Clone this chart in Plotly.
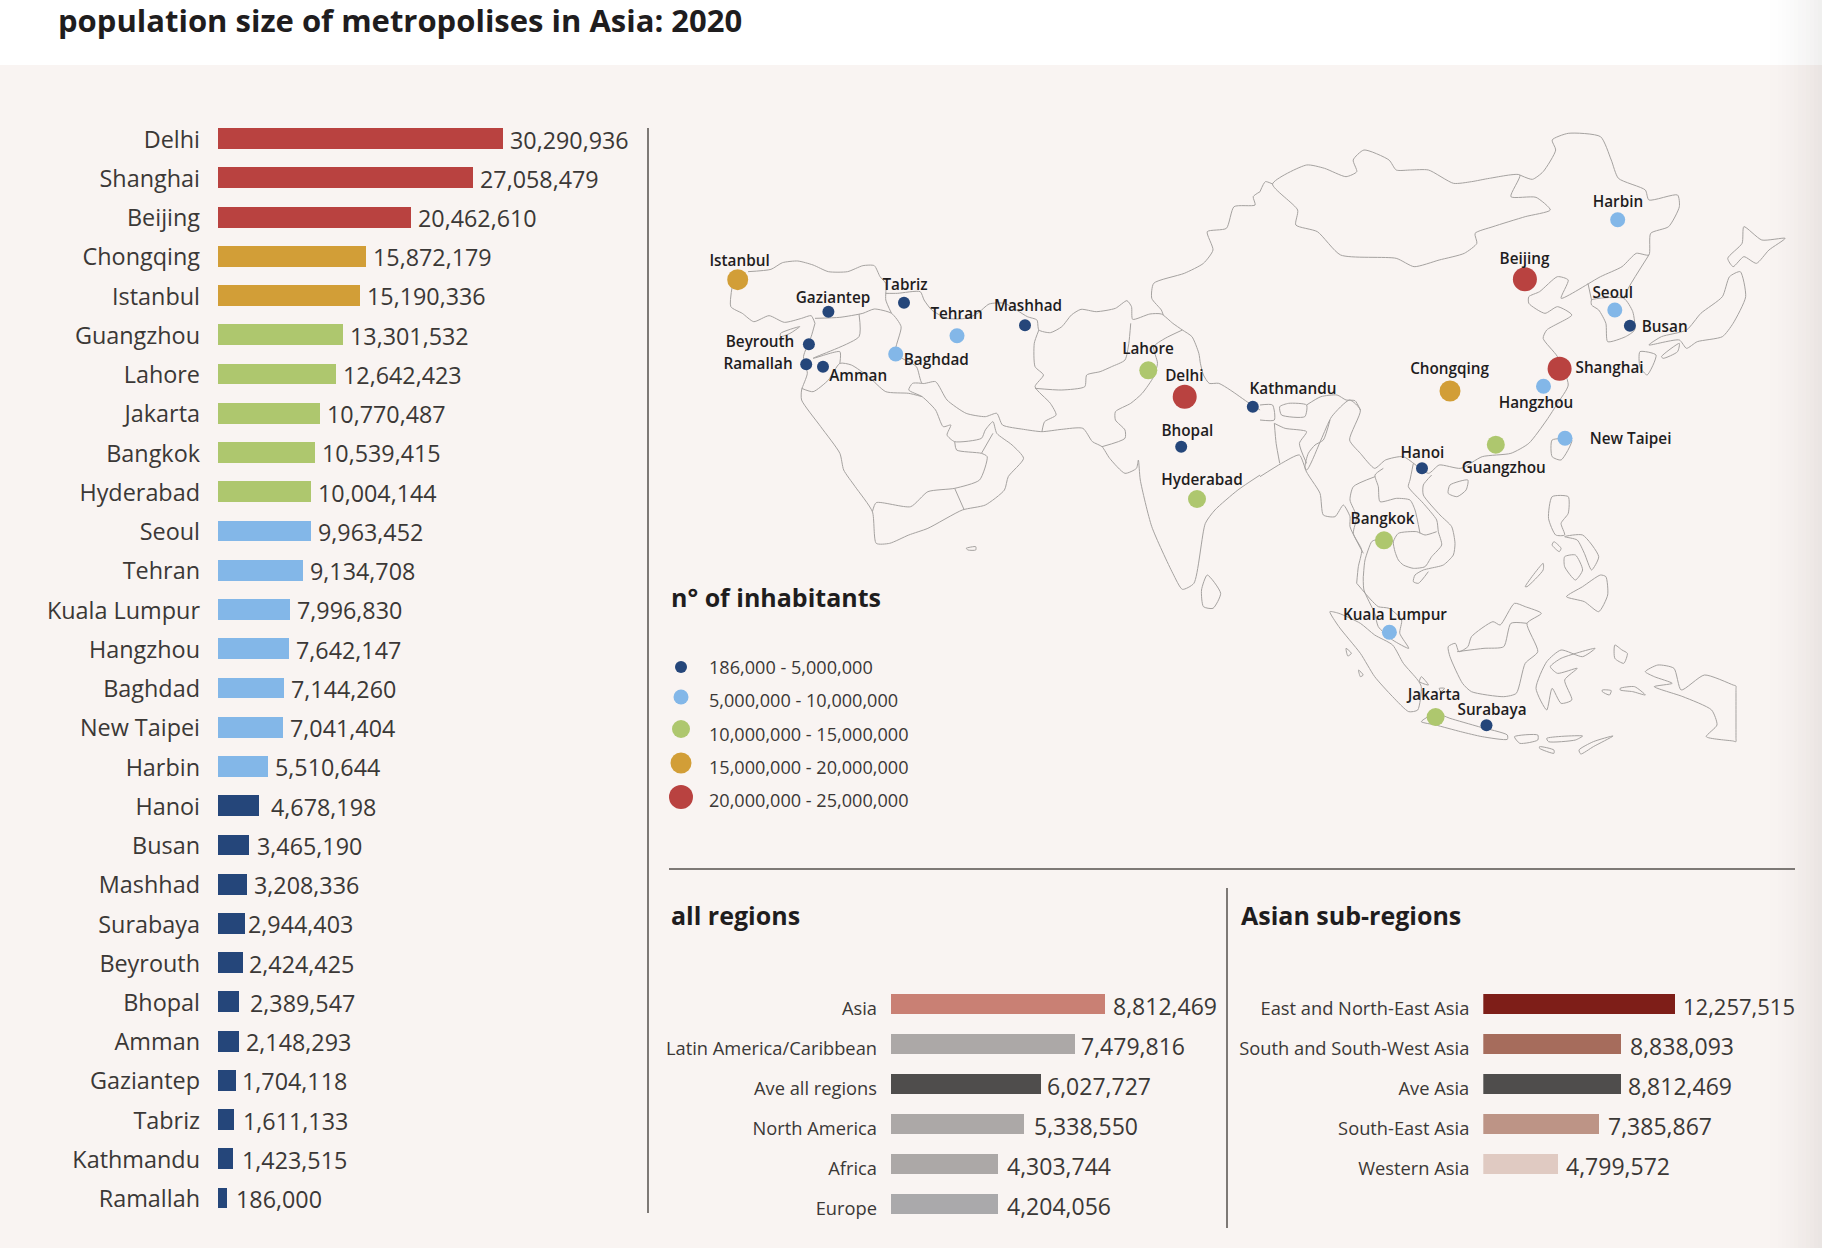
import plotly.graph_objects as go

W, H = 1822, 1248
FONT = "Open Sans"
INK = "#1f1d1e"
TEXT = "#3b3836"
PANEL = "#f9f4f2"
RULE = "#55504d"
OUTLINE = "#a5a2a0"

# ---------- data ----------
cities = ["Delhi", "Shanghai", "Beijing", "Chongqing", "Istanbul", "Guangzhou", "Lahore", "Jakarta",
          "Bangkok", "Hyderabad", "Seoul", "Tehran", "Kuala Lumpur", "Hangzhou", "Baghdad", "New Taipei",
          "Harbin", "Hanoi", "Busan", "Mashhad", "Surabaya", "Beyrouth", "Bhopal", "Amman", "Gaziantep",
          "Tabriz", "Kathmandu", "Ramallah"]
population = [30290936, 27058479, 20462610, 15872179, 15190336, 13301532, 12642423, 10770487,
              10539415, 10004144, 9963452, 9134708, 7996830, 7642147, 7144260, 7041404,
              5510644, 4678198, 3465190, 3208336, 2944403, 2424425, 2389547, 2148293, 1704118,
              1611133, 1423515, 186000]
# bar lengths as drawn in the source, in millions (it does not draw every bar strictly to scale)
drawn_bars = [30.29, 27.06, 20.46, 15.75, 15.09, 13.28, 12.49, 10.84,
              10.36, 9.85, 9.85, 8.98, 7.65, 7.5, 7.05, 6.9,
              5.31, 4.4, 3.33, 3.09, 2.84, 2.7, 2.2, 2.2, 1.88,
              1.66, 1.6, 0.95]
value_nudge = {"Hanoi": 5, "Busan": 1, "Surabaya": -4, "Beyrouth": -1, "Bhopal": 4, "Gaziantep": -1, "Tabriz": 2, "Kathmandu": 2, "Ramallah": 2}

regions = ["Asia", "Latin America/Caribbean", "Ave all regions", "North America", "Africa", "Europe"]
region_values = [8812469, 7479816, 6027727, 5338550, 4303744, 4204056]
region_drawn = [8.70, 7.48, 6.10, 5.41, 4.35, 4.35]
region_colors = ["#c98074", "#aca8a7", "#4f4d4c", "#aca8a7", "#aca8a7", "#aaa9ab"]
region_gaps = [9, 7, 7, 11, 10, 10]

subregions = ["East and North-East Asia", "South and South-West Asia", "Ave Asia", "South-East Asia", "Western Asia"]
subregion_values = [12257515, 8838093, 8812469, 7385867, 4799572]
subregion_colors = ["#7e1e18", "#a66c5c", "#4f4d4c", "#bd9486", "#e0cac2"]
subregion_gaps = [9, 9, 8, 10, 9]
subregion_label_sizes = [22, 23, 23, 23, 23]

tier_labels = ["186,000 - 5,000,000", "5,000,000 - 10,000,000", "10,000,000 - 15,000,000",
               "15,000,000 - 20,000,000", "20,000,000 - 25,000,000"]
tier_colors = ["#25467a", "#83b7e8", "#aec76e", "#d29e37", "#b94240"]
tier_sizes = [12, 15, 18, 21, 24]
legend_dot_y = [667, 697, 729, 763, 797]
legend_text_y = [669, 702, 736, 769, 802]

# city position on the map sheet, and its label's position
map_x = dict(zip(cities, [1184.7, 1559.6, 1524.9, 1450, 737.7, 1495.8, 1148.3, 1435.6, 1384, 1197, 1614.8, 957, 1389.4,
                          1543.5, 895.7, 1565, 1617.7, 1422, 1629.9, 1025, 1486.5, 808.9, 1181.2, 823, 828.4, 904,
                          1252.8, 806.2]))
map_y = dict(zip(cities, [396.7, 368.7, 279.3, 391, 279.7, 444.7, 370.3, 717, 540.3, 499, 310, 335.7, 632.3, 386.3, 354,
                          438.3, 219.7, 468.3, 325.7, 325.3, 725.3, 344.3, 446.7, 366.7, 311.7, 302.7, 406.7, 364.3]))
label_x = dict(zip(cities, [1184.3, 1609.5, 1524.5, 1449.6, 739.6, 1503.7, 1148, 1434, 1382.6, 1202, 1612.7, 956.6, 1395,
                            1536, 936.3, 1630.6, 1618, 1422.4, 1664.7, 1028, 1492, 760, 1187.4, 858.2, 833, 905, 1293, 758]))
label_y = dict(zip(cities, [377.3, 369.3, 259.7, 370, 262, 468.7, 350.3, 695.7, 519.7, 481.3, 293.7, 315.3, 615.7, 403.7,
                            361.3, 440.3, 203.3, 454.3, 327.7, 307.3, 710.7, 343.3, 432.3, 376.7, 298.7, 285.7, 390.3, 365.3]))

# map outlines, one list per sheet
outlines_west = [
    [(230,485),(290,478),(320,458),(360,453),(400,465),(440,485),(490,485),(530,467),(560,467),(575,500),(590,520),(590,570),(605,610)],
    [(190,520),(185,590),(215,610),(245,635),(285,617),(325,637),(370,625),(395,617),(405,640)],
    [(405,625),(470,622),(530,610),(560,597),(605,610),(630,650),(615,730),(670,770),(685,820),(720,815),(750,870),(800,910),(850,920),(880,910),(895,945),(950,958),(998,965),(1050,958),(1105,955),(1130,995),(1155,1010),(1175,1045),(1215,1090),(1245,1075),(1250,1050),(1255,1110),(1285,1250),(1340,1390),(1365,1438),(1395,1420),(1425,1240),(1450,1200),(1510,1140),(1568,1095)],
    [(590,550),(620,550),(680,545),(690,570),(710,600),(750,625),(800,625),(830,610),(860,582),(900,580),(960,620),(985,630),(990,660),(1020,668),(1050,650),(1075,615),(1100,598),(1140,605),(1190,595),(1220,572),(1232,590),(1235,628),(1280,612),(1310,612),(1340,640),(1365,660),(1390,680),(1408,730),(1412,760),(1420,795),(1435,820),(1460,820),(1490,840),(1540,880),(1568,900)],
    [(990,660),(978,700),(980,770),(1002,795),(980,830),(1020,880),(1035,915),(1005,935),(998,965)],
    [(980,835),(1050,840),(1110,830),(1115,795),(1150,785),(1180,770),(1215,750),(1225,700),(1230,640)],
    [(1155,1010),(1215,985),(1215,960),(1190,930),(1190,905),(1230,880),(1260,850),(1290,800),(1300,760),(1290,710),(1320,685),(1365,660)],
    [(405,640),(395,680),(375,740),(385,790),(370,840),(370,870),(420,950),(470,1030),(480,1080),(510,1130),(555,1205),(565,1300),(600,1300),(650,1275),(700,1255),(790,1200),(850,1185),(900,1140),(910,1100),(950,1045),(920,1005),(880,970),(870,935),(850,960),(840,985),(770,995),(750,975),(760,945),(740,950),(720,900),(685,860),(650,840),(660,820),(685,820)],
    [(370,835),(400,845),(440,810),(470,760),(500,765),(545,800),(590,845),(650,850),(685,860)],
    [(520,612),(520,680),(400,745),(470,725),(470,760)],
    [(770,1135),(795,1200)],
    [(555,1205),(565,1178),(655,1190),(700,1145),(770,1135),(835,1110),(855,1040),(840,1030),(775,1020),(770,995)],
    [(840,1030),(870,970)],
    [(1430,1395),(1465,1450),(1445,1495),(1420,1490),(1415,1440),(1430,1395)],
    [(800,1315),(825,1310),(825,1320),(805,1320),(800,1315)],
    [(315,670),(365,650),(340,670),(315,680),(315,670)],
    [(1568,245),(1550,260),(1555,285),(1500,290),(1480,355),(1430,365),(1445,420),(1420,460),(1370,490),(1290,520),(1285,565),(1310,600),(1315,615)],
]
outlines_north = [
    [(35,222),(130,165),(180,175),(240,200),(270,185),(260,150),(290,120),(360,150),(380,180),(420,180),(470,180),(540,220),(590,215),(640,205),(725,195),(700,260),(770,262),(810,300),(740,320),(650,350),(600,370),(605,400),(570,430),(500,450),(430,470),(380,445),(225,435),(160,365),(100,345),(105,300),(35,222)],
    [(0,245),(15,215),(35,222)],
    [(725,195),(760,208),(790,185),(825,120),(815,90),(860,70),(950,80),(980,150),(1000,205),(1075,240),(1085,270),(1165,255),(1170,290),(1140,350),(1090,370),(1085,435),(1050,430),(1010,470),(950,500),(840,565),(860,510),(830,500),(780,545),(750,560),(750,580),(795,610),(830,590),(870,615),(800,660),(790,685),(830,740),(860,825),(830,880),(800,930),(750,1000),(700,1030),(620,1040),(560,1075),(500,1065),(470,1090),(400,1040),(350,1050),(320,1075),(280,1030),(250,990),(280,900),(250,870),(200,920),(170,990),(130,1080),(110,1035),(60,1060),(0,1100)],
    [(0,885),(35,885),(40,930),(0,930)],
    [(55,890),(80,880),(130,885),(125,920),(60,915),(55,890)],
    [(40,940),(70,955),(130,965),(110,1000),(130,1060)],
    [(55,1060),(45,1000),(40,940)],
    [(130,885),(170,860),(215,855),(240,870),(265,872),(280,900)],
    [(925,570),(1015,565),(1040,605),(1045,660),(1020,680),(970,695),(965,640),(945,600),(925,585),(925,570)],
    [(915,520),(925,570)],
    [(1085,435),(1030,530),(1015,565)],
    [(1305,445),(1345,400),(1350,350),(1400,390),(1465,385),(1420,420),(1385,460),(1350,440),(1320,470),(1305,445)],
    [(1340,485),(1355,560),(1320,640),(1290,680),(1220,695),(1190,715),(1170,690),(1085,705),(1120,680),(1190,660),(1230,610),(1290,560),(1310,500),(1340,485)],
    [(1120,740),(1170,700),(1165,725),(1125,745),(1120,740)],
    [(1060,725),(1105,735),(1080,795),(1060,770),(1060,725)],
    [(815,990),(870,990),(840,1050),(815,1040),(815,990)],
    [(530,1125),(580,1110),(575,1140),(550,1160),(525,1150),(530,1125)],
]
outlines_indochina = [
    [(395,165),(370,195),(370,225),(420,285),(455,320),(465,370),(460,405),(430,435),(390,445),(370,450),(345,465),(340,485),(355,490),(385,455)],
    [(340,130),(330,180),(325,200),(370,250),(410,300),(415,335),(425,375),(395,410),(375,440),(340,445),(310,435),(295,420),(285,395),(280,365),(295,340),(350,335),(375,345),(410,335)],
    [(250,145),(225,165),(235,200),(240,245),(290,235),(330,240),(345,270),(360,340)],
    [(225,170),(160,200),(150,240),(170,290),(160,340),(185,390),(175,440),(170,490)],
    [(90,0),(70,60),(45,75),(25,100),(15,145),(60,220),(70,285),(105,290),(130,255),(150,290),(150,320),(190,400)],
    [(280,365),(225,360),(215,365),(195,420),(190,470)],
]
outlines_south = [
    [(270,310),(310,360),(330,380),(360,385),(395,420),(390,460),(415,505),(370,480),(330,440),(320,400),(290,330),(288,290)],
    [(195,395),(220,400),(280,430),(320,465),(370,495),(400,550),(440,600),(450,620),(440,690),(415,695),(370,650),(320,590),(280,520),(220,440),(195,395)],
    [(450,725),(490,700),(530,715),(610,740),(690,765),(690,778),(620,770),(560,755),(490,735),(450,725)],
    [(525,500),(545,490),(555,515),(580,500),(590,470),(650,425),(670,435),(710,370),(740,380),(785,400),(745,430),(775,515),(740,550),(715,640),(680,650),(590,635),(565,610),(530,530),(525,500)],
    [(550,515),(625,505),(680,500),(700,430),(745,430)],
    [(935,505),(900,530),(840,510),(800,545),(770,625),(800,690),(815,625),(840,670),(870,660),(850,600),(885,565),(830,580),(810,560),(840,535),(935,505)],
    [(815,50),(860,50),(860,100),(840,130),(850,165),(825,165),(805,115),(815,50)],
    [(850,170),(900,165),(945,230),(925,270),(905,220),(885,180),(850,170)],
    [(740,320),(790,250),(790,270),(745,320),(740,320)],
    [(855,350),(900,320),(950,285),(965,290),(970,345),(945,395),(905,365),(855,350)],
    [(850,230),(880,225),(900,270),(880,300),(850,260),(850,230)],
    [(820,185),(840,205),(835,215),(815,195),(820,185)],
    [(1075,575),(1110,555),(1155,565),(1175,630),(1240,585),(1320,615),(1328,618),(1328,628),(1328,775),(1328,785),(1320,783),(1245,770),(1275,735),(1260,690),(1180,650),(1100,620),(1150,610),(1100,590),(1075,575)],
    [(990,495),(1010,510),(1025,520),(1015,550),(990,535),(990,495)],
    [(1005,625),(1045,620),(1075,645),(1040,635),(1005,630),(1005,625)],
    [(955,630),(980,632),(975,645),(955,635),(955,630)],
    [(710,770),(775,765),(775,780),(725,790),(710,770)],
    [(800,775),(900,768),(880,780),(805,785),(800,775)],
    [(780,800),(820,810),(820,820),(780,805),(780,800)],
    [(890,810),(930,785),(985,768),(930,800),(895,822),(890,810)],
    [(240,505),(255,520),(245,528),(240,505)],
    [(275,570),(288,585),(280,590),(275,570)],
    [(450,590),(470,615),(445,605),(450,590)],
    [(500,625),(515,625),(505,635),(500,625)],
]


# ---------- helpers ----------
def fx(px):
    return px / W


def fy(py):
    return 1 - py / H


def tier_of(v):
    return min(int(v // 5000000), 4)


def sheet_line(groups, x0, xs, y0, ys):
    xx, yy = [], []
    for g in groups:
        for X, Y in g:
            xx.append(x0 + X / xs)
            yy.append(y0 + Y / ys)
        xx.append(None)
        yy.append(None)
    return xx, yy


def rect(x0, y0, x1, y1, color):
    return dict(type="rect", xref="paper", yref="paper", x0=fx(x0), x1=fx(x1), y0=fy(y0), y1=fy(y1),
                fillcolor=color, line=dict(width=0), layer="below")


def rule(x0, y0, x1, y1):
    return dict(type="line", xref="paper", yref="paper", x0=fx(x0), x1=fx(x1), y0=fy(y0), y1=fy(y1),
                line=dict(color=RULE, width=1.5), layer="above")


def heading(text, x, y, size):
    return dict(text=f"<b>{text}</b>", xref="paper", yref="paper", x=fx(x), y=fy(y), showarrow=False,
                xanchor="left", yanchor="middle", font=dict(family=FONT, size=size, color=INK))


fig = go.Figure()

# ---------- bars ----------
fig.add_trace(go.Bar(x=drawn_bars, y=cities, orientation="h", xaxis="x", yaxis="y", width=0.53,
                     marker=dict(color=[tier_colors[tier_of(v)] for v in population], line=dict(width=0)),
                     showlegend=False, hoverinfo="skip"))
fig.add_trace(go.Bar(x=region_drawn, y=regions, orientation="h", xaxis="x2", yaxis="y2", width=0.515,
                     marker=dict(color=region_colors, line=dict(width=0)), showlegend=False, hoverinfo="skip"))
fig.add_trace(go.Bar(x=[v / 1e6 for v in subregion_values], y=subregions, orientation="h", xaxis="x3", yaxis="y3", width=0.515,
                     marker=dict(color=subregion_colors, line=dict(width=0)), showlegend=False, hoverinfo="skip"))

# ---------- map ----------
for groups, x0, xs, y0, ys in [(outlines_west, 660, 2.613, 110, 3), (outlines_north, 1260, 2.79, 110, 3),
                               (outlines_indochina, 1300, 3, 420, 3), (outlines_south, 1260, 2.79, 480, 3)]:
    xx, yy = sheet_line(groups, x0, xs, y0, ys)
    fig.add_trace(go.Scatter(x=xx, y=yy, mode="lines", xaxis="x4", yaxis="y4",
                             line=dict(color=OUTLINE, width=1, shape="spline", smoothing=0.6),
                             showlegend=False, hoverinfo="skip"))
fig.add_trace(go.Scatter(x=[map_x[c] for c in cities], y=[map_y[c] for c in cities], mode="markers", xaxis="x4", yaxis="y4",
                         marker=dict(color=[tier_colors[tier_of(v)] for v in population], opacity=1,
                                     size=[tier_sizes[tier_of(v)] for v in population], line=dict(width=0)),
                         showlegend=False, hoverinfo="skip"))
fig.add_trace(go.Scatter(x=[label_x[c] for c in cities], y=[label_y[c] for c in cities], mode="text", text=cities,
                         textposition="middle center", xaxis="x4", yaxis="y4",
                         textfont=dict(family=FONT, size=15.3, color=INK, weight=600), showlegend=False, hoverinfo="skip"))

# legend of the map
fig.add_trace(go.Scatter(x=[681] * 5, y=legend_dot_y, mode="markers", xaxis="x4", yaxis="y4",
                         marker=dict(color=tier_colors, opacity=1, size=tier_sizes, line=dict(width=0)),
                         showlegend=False, hoverinfo="skip"))
fig.add_trace(go.Scatter(x=[709] * 5, y=legend_text_y, mode="text", text=tier_labels, textposition="middle right", xaxis="x4", yaxis="y4",
                         textfont=dict(family=FONT, size=18.1, color=TEXT), showlegend=False, hoverinfo="skip"))

# ---------- value labels ----------
annotations = [
    heading("population size of metropolises in Asia: 2020", 56, 20, 31),
    heading("n° of inhabitants", 669, 597, 25),
    heading("all regions", 669, 915, 25),
    heading("Asian sub-regions", 1239, 915, 25),
]
for c, d, v in zip(cities, drawn_bars, population):
    annotations.append(dict(text=f"{v:,}", x=d, y=c, xref="x", yref="y", showarrow=False, xanchor="left", yanchor="middle",
                            xshift=5 + value_nudge.get(c, 0), yshift=-1, font=dict(family=FONT, size=23.3, color=TEXT)))
for c, d, v, g in zip(regions, region_drawn, region_values, region_gaps):
    annotations.append(dict(text=f"{v:,}", x=d, y=c, xref="x2", yref="y2", showarrow=False, xanchor="left", yanchor="middle",
                            xshift=g - 3, yshift=-2, font=dict(family=FONT, size=23, color=TEXT)))
for c, v, g, s in zip(subregions, subregion_values, subregion_gaps, subregion_label_sizes):
    annotations.append(dict(text=f"{v:,}", x=v / 1e6, y=c, xref="x3", yref="y3", showarrow=False, xanchor="left", yanchor="middle",
                            xshift=g - 3, yshift=-2, font=dict(family=FONT, size=s, color=TEXT)))

hidden_x = dict(visible=False, fixedrange=True)


def cat_axis(xname, top, bottom, size, standoff, shift, order):
    return dict(domain=[fy(bottom), fy(top)], anchor=xname, autorange=False, range=[len(order) - 0.5, -0.5], type="category",
                categoryorder="array", categoryarray=order, showgrid=False, showline=False, zeroline=False,
                ticks="", ticklabelstandoff=standoff, ticklabelshift=shift,
                tickfont=dict(family=FONT, size=size, color=TEXT), fixedrange=True)


# soft shading towards the right edge of the page
shade = []
for i in range(13):
    x0 = 1770 + i * 4
    shade.append(rect(x0, 0, x0 + 4, H, f"rgba(60,50,45,{0.075 * ((i + 1) / 13) ** 1.4:.4f})"))

fig.update_layout(
    width=W, height=H, margin=dict(l=0, r=0, t=0, b=0), autosize=False,
    paper_bgcolor="#ffffff", plot_bgcolor="rgba(0,0,0,0)", bargap=0, showlegend=False,
    font=dict(family=FONT, color=TEXT),
    xaxis=dict(domain=[fx(218), fx(640)], range=[0, 422 / 9.41], anchor="y", **hidden_x),
    yaxis=cat_axis("x", 118.9, 1217.6, 23.4, 17, -1, cities),
    xaxis2=dict(domain=[fx(891), fx(1220)], range=[0, 329 / 24.6], anchor="y2", **hidden_x),
    yaxis2=cat_axis("x2", 984, 1224, 18.3, 13, -5, regions),
    xaxis3=dict(domain=[fx(1483.3), fx(1800)], range=[0, 316.7 / 15.65], anchor="y3", **hidden_x),
    yaxis3=cat_axis("x3", 984, 1184, 18.3, 13, -5, subregions),
    xaxis4=dict(domain=[0, 1], range=[0, W], anchor="y4", **hidden_x),
    yaxis4=dict(domain=[0, 1], range=[H, 0], anchor="x4", visible=False, fixedrange=True),
    shapes=[rect(0, 65, W, H, PANEL)] + shade + [
        rule(648, 128, 648, 1213),
        rule(669, 869, 1795, 869),
        rule(1227, 888, 1227, 1228),
    ],
    annotations=annotations,
)

fig.write_html("out.html", config={"displayModeBar": False},
               post_script="document.body.style.margin='0';document.body.style.overflow='hidden';")
